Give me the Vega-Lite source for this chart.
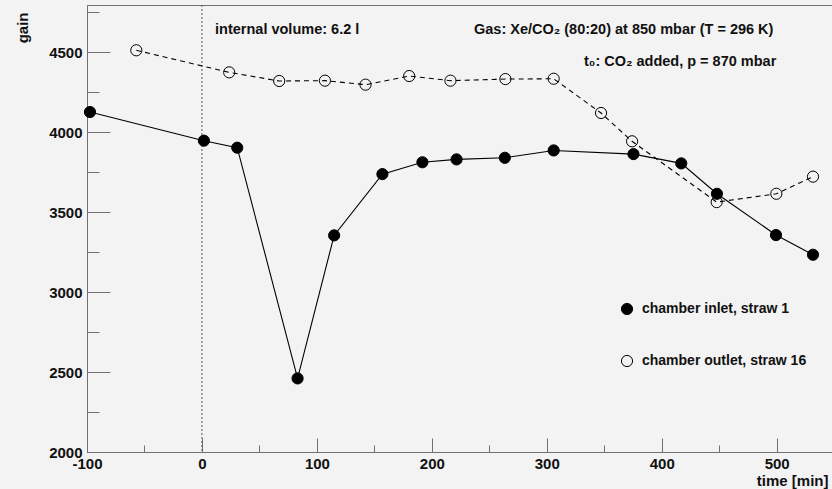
{
  "$schema": "https://vega.github.io/schema/vega-lite/v6.json",
  "width": 746,
  "height": 447,
  "autosize": {"type": "none"},
  "padding": {"left": 87, "top": 5, "right": 0, "bottom": 37},
  "background": "#f3f3f3",
  "config": {
    "view": {"stroke": "#707070", "strokeWidth": 1, "fill": "#f3f3f3"},
    "font": "Liberation Sans",
    "axis": {
      "domainColor": "#707070",
      "tickColor": "#707070",
      "grid": false,
      "labelFont": "Liberation Sans",
      "labelFontWeight": "bold",
      "labelFontSize": 15,
      "labelColor": "#111111",
      "labelOverlap": false,
      "labelFlush": false,
      "labelBound": false,
      "titleFont": "Liberation Sans",
      "titleFontWeight": "bold",
      "titleFontSize": 15,
      "titleColor": "#111111"
    }
  },
  "datasets": {
    "gain": [
      {"time": -97.4, "gain": 4125, "series": "chamber inlet, straw 1"},
      {"time": 1.7, "gain": 3946, "series": "chamber inlet, straw 1"},
      {"time": 30.7, "gain": 3902, "series": "chamber inlet, straw 1"},
      {"time": 83.2, "gain": 2460, "series": "chamber inlet, straw 1"},
      {"time": 115, "gain": 3354, "series": "chamber inlet, straw 1"},
      {"time": 157, "gain": 3737, "series": "chamber inlet, straw 1"},
      {"time": 191.8, "gain": 3811, "series": "chamber inlet, straw 1"},
      {"time": 221.5, "gain": 3829, "series": "chamber inlet, straw 1"},
      {"time": 263.5, "gain": 3839, "series": "chamber inlet, straw 1"},
      {"time": 306, "gain": 3885, "series": "chamber inlet, straw 1"},
      {"time": 375.4, "gain": 3862, "series": "chamber inlet, straw 1"},
      {"time": 417, "gain": 3804, "series": "chamber inlet, straw 1"},
      {"time": 448, "gain": 3614, "series": "chamber inlet, straw 1"},
      {"time": 499.4, "gain": 3356, "series": "chamber inlet, straw 1"},
      {"time": 531.6, "gain": 3233, "series": "chamber inlet, straw 1"},
      {"time": -57.1, "gain": 4511, "series": "chamber outlet, straw 16"},
      {"time": 23.7, "gain": 4373, "series": "chamber outlet, straw 16"},
      {"time": 67.2, "gain": 4319, "series": "chamber outlet, straw 16"},
      {"time": 107, "gain": 4321, "series": "chamber outlet, straw 16"},
      {"time": 142.3, "gain": 4296, "series": "chamber outlet, straw 16"},
      {"time": 180.3, "gain": 4350, "series": "chamber outlet, straw 16"},
      {"time": 216.2, "gain": 4321, "series": "chamber outlet, straw 16"},
      {"time": 264, "gain": 4331, "series": "chamber outlet, straw 16"},
      {"time": 306, "gain": 4333, "series": "chamber outlet, straw 16"},
      {"time": 347.2, "gain": 4119, "series": "chamber outlet, straw 16"},
      {"time": 374.2, "gain": 3942, "series": "chamber outlet, straw 16"},
      {"time": 447.8, "gain": 3562, "series": "chamber outlet, straw 16"},
      {"time": 499.7, "gain": 3614, "series": "chamber outlet, straw 16"},
      {"time": 531.6, "gain": 3721, "series": "chamber outlet, straw 16"}
    ],
    "notes": [
      {"time": 11.4, "gain": 4637, "text": "internal volume: 6.2 l"},
      {"time": 236.7, "gain": 4637, "text": "Gas: Xe/CO₂ (80:20) at 850 mbar (T = 296 K)"},
      {"time": 332.4, "gain": 4437, "text": "t₀: CO₂ added, p = 870 mbar"}
    ],
    "t0": [{"time": 0}]
  },
  "layer": [
    {
      "data": {"name": "t0"},
      "mark": {"type": "rule", "color": "#555555", "strokeDash": [2, 2], "strokeWidth": 1},
      "encoding": {
        "x": {
          "field": "time",
          "type": "quantitative",
          "scale": {"domain": [-100, 549], "nice": false, "zero": false},
          "axis": {
            "title": "time [min]",
            "values": [-100, -50, 0, 50, 100, 150, 200, 250, 300, 350, 400, 450, 500],
            "tickSize": {"condition": {"test": "datum.value % 100 === 0", "value": -14}, "value": -7},
            "labelPadding": 18,
            "labelExpr": "datum.value % 100 === 0 ? '' + datum.value : ''",
            "titleX": 741,
            "titleY": 28,
            "titleAlign": "right",
            "titleBaseline": "middle"
          }
        }
      }
    },
    {
      "data": {"name": "gain"},
      "transform": [{"filter": "datum.series === 'chamber inlet, straw 1'"}],
      "mark": {"type": "line", "color": "#000000", "strokeWidth": 1.1},
      "encoding": {
        "x": {"field": "time", "type": "quantitative"},
        "y": {
          "field": "gain",
          "type": "quantitative",
          "scale": {"domain": [2000, 4794], "nice": false, "zero": false},
          "axis": {
            "title": "gain",
            "values": [2000, 2250, 2500, 2750, 3000, 3250, 3500, 3750, 4000, 4250, 4500, 4750],
            "tickSize": {"condition": {"test": "datum.value % 500 === 0", "value": -23}, "value": -12},
            "labelPadding": 28,
            "labelExpr": "datum.value % 500 === 0 ? '' + datum.value : ''",
            "labelBaseline": "middle",
            "titleX": -65,
            "titleY": 7,
            "titleAngle": -90,
            "titleAlign": "right",
            "titleBaseline": "middle"
          }
        }
      }
    },
    {
      "data": {"name": "gain"},
      "transform": [{"filter": "datum.series === 'chamber outlet, straw 16'"}],
      "mark": {"type": "line", "color": "#000000", "strokeWidth": 1.1, "strokeDash": [5, 4]},
      "encoding": {
        "x": {"field": "time", "type": "quantitative"},
        "y": {"field": "gain", "type": "quantitative"}
      }
    },
    {
      "data": {"name": "gain"},
      "mark": {"type": "point", "shape": "circle", "filled": true, "size": 125, "stroke": "#000000", "strokeWidth": 1, "opacity": 1},
      "encoding": {
        "x": {"field": "time", "type": "quantitative"},
        "y": {"field": "gain", "type": "quantitative"},
        "fill": {
          "field": "series",
          "type": "nominal",
          "scale": {"domain": ["chamber inlet, straw 1", "chamber outlet, straw 16"], "range": ["#000000", "transparent"]},
          "legend": {
            "title": null,
            "orient": "none",
            "legendX": 533,
            "legendY": 297,
            "symbolType": "circle",
            "symbolSize": 125,
            "symbolStrokeColor": "#000000",
            "symbolStrokeWidth": 1,
            "labelFont": "Liberation Sans",
            "labelFontWeight": "bold",
            "labelFontSize": 14,
            "labelColor": "#111111",
            "labelOffset": 8,
            "labelLimit": 400,
            "rowPadding": 36,
            "padding": 0
          }
        }
      }
    },
    {
      "data": {"name": "notes"},
      "mark": {"type": "text", "align": "left", "baseline": "middle", "font": "Liberation Sans", "fontWeight": "bold", "fontSize": 14.5, "color": "#111111"},
      "encoding": {
        "x": {"field": "time", "type": "quantitative"},
        "y": {"field": "gain", "type": "quantitative"},
        "text": {"field": "text"}
      }
    }
  ]
}
